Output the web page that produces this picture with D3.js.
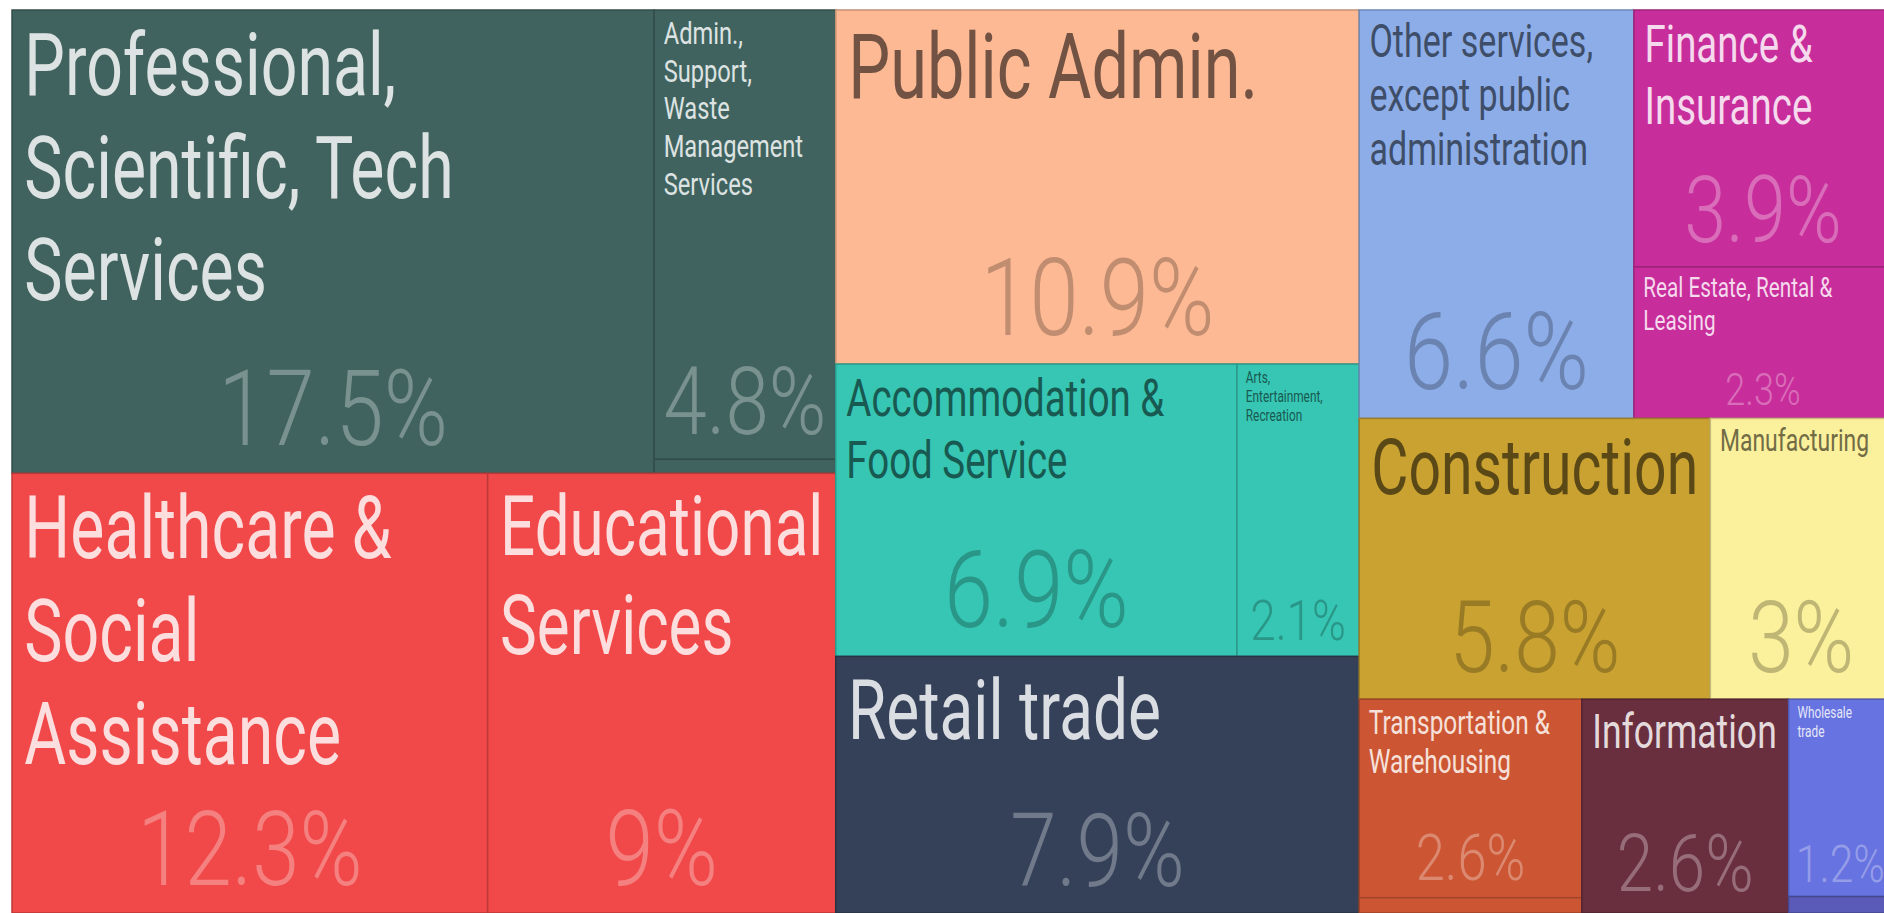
<!DOCTYPE html>
<html>
<head>
<meta charset="utf-8">
<script src="https://cdn.jsdelivr.net/npm/d3@7"></script>
<style>
  html, body { margin: 0; padding: 0; background: #fff; overflow: hidden; }
  svg { display: block; }
  text { font-family: Roboto, "Noto Sans", sans-serif; }
</style>
</head>
<body>
<svg id="chart"></svg>
<script>
// industries, share of jobs (%)
const ids = ["prof", "admin", "mgmt", "heal", "edu", "pub", "acc", "arts", "retail", "other",
    "fin", "re", "cons", "manu", "trans", "util", "info", "whole", "mining"]

const sectors = [
    "Professional,\nScientific, Tech\nServices",
    "Admin.,\nSupport,\nWaste\nManagement\nServices",
    "Management of Companies",
    "Healthcare &\nSocial\nAssistance",
    "Educational\nServices",
    "Public Admin.",
    "Accommodation &\nFood Service",
    "Arts,\nEntertainment,\nRecreation",
    "Retail trade",
    "Other services,\nexcept public\nadministration",
    "Finance &\nInsurance",
    "Real Estate, Rental &\nLeasing",
    "Construction",
    "Manufacturing",
    "Transportation &\nWarehousing",
    "Utilities",
    "Information",
    "Wholesale\ntrade",
    "Mining"
]

const shares = [17.5, 4.8, 0.15, 12.3, 9, 10.9, 6.9, 2.1, 7.9, 6.6, 3.9, 2.3, 5.8, 3, 2.6, 0.2, 2.6, 1.2, 0.1]

const supersectors = ["business", "business", "business", "eduhealth", "eduhealth", "public", "leisure", "leisure",
    "retail", "other", "financial", "financial", "construction", "manufacturing", "transport", "transport",
    "information", "wholesale", "mining"]

// nesting used by the slice/dice layout
const blocks = ["A/pbs", "A/pbs/sub", "A/pbs/sub", "A/eh", "A/eh", "B", "B/lh", "B/lh", "B", "C/r1",
    "C/r1/fin", "C/r1/fin", "C/r2", "C/r2", "C/r3/tu", "C/r3/tu", "C/r3", "C/r3/wm", "C/r3/wm"]

const width = 1884
const height = 913
const margin = { top: 10, left: 12, right: -8 } // the map runs a little past the right edge

const palette = {
    business: "#41635f",
    eduhealth: "#f14949",
    public: "#fdb994",
    leisure: "#36c6b3",
    retail: "#344159",
    other: "#8dade8",
    financial: "#c82e9b",
    construction: "#c9a231",
    manufacturing: "#fbf09b",
    transport: "#cc5634",
    information: "#692f3f",
    wholesale: "#6773e0",
    mining: "#5a5bb8"
}
const color = d3.scaleOrdinal(Object.keys(palette), Object.values(palette))

// [name font px, percent font px]
const textSize = {
    prof: [87, 106], admin: [32, 95], heal: [87, 104], edu: [87, 106], pub: [90, 108],
    acc: [52, 108], arts: [16, 56], retail: [84, 102], other: [46, 108], fin: [52, 92],
    re: [28, 44], cons: [82, 100], manu: [31, 100], trans: [33, 64], info: [48, 80], whole: [16, 52]
}
const NAME_SX = 0.74
const PCT_SX = 0.82
const LINE = 1.18

// build the tree
const tree = { children: [] }
const groups = new Map()
sectors.forEach((name, i) => {
    let parent = tree
    let path = ""
    blocks[i].split("/").forEach(part => {
        path += "/" + part
        if (!groups.has(path)) {
            const g = { children: [] }
            parent.children.push(g)
            groups.set(path, g)
        }
        parent = groups.get(path)
    })
    parent.children.push({ id: ids[i], name, value: shares[i], group: supersectors[i] })
})

const root = d3.hierarchy(tree).sum(d => d.value || 0)
d3.treemap()
    .tile(d3.treemapSliceDice)
    .size([width - margin.left - margin.right, height - margin.top])(root)

const svg = d3.select("#chart")
    .attr("width", width)
    .attr("height", height)
    .attr("xmlns", "http://www.w3.org/2000/svg")

svg.append("rect").attr("width", width).attr("height", height).attr("fill", "#fff")

const g = svg.append("g").attr("transform", `translate(${margin.left},${margin.top})`)

const cell = g.selectAll("g")
    .data(root.leaves())
    .join("g")
    .attr("transform", d => `translate(${d.x0},${d.y0})`)

cell.append("clipPath")
    .attr("id", d => "clip-" + d.data.id)
    .append("rect")
    .attr("width", d => d.x1 - d.x0)
    .attr("height", d => d.y1 - d.y0)

cell.append("rect")
    .attr("width", d => d.x1 - d.x0)
    .attr("height", d => d.y1 - d.y0)
    .attr("fill", d => color(d.data.group))
    .attr("stroke", d => d3.color(color(d.data.group)).darker(0.7))
    .attr("stroke-width", 1.5)

cell.each(function(d) {
    const size = textSize[d.data.id]
    if (!size) return
    const [nameFs, pctFs] = size
    const w = d.x1 - d.x0
    const h = d.y1 - d.y0
    const fill = color(d.data.group)
    const light = d3.lab(fill).l > 60
    const ink = light ? d3.interpolateRgb(fill, "#000")(0.55) : d3.interpolateRgb(fill, "#fff")(0.82)
    const faint = light ? d3.interpolateRgb(fill, "#000")(0.24) : d3.interpolateRgb(fill, "#fff")(0.3)

    const box = d3.select(this).append("g").attr("clip-path", `url(#clip-${d.data.id})`)

    // name, top left
    const pad = 8 + nameFs * 0.05
    const name = box.append("text")
        .attr("fill", ink)
        .attr("font-size", nameFs)
    d.data.name.split("\n").forEach((line, k) => {
        name.append("tspan").attr("x", 0).attr("dy", k ? nameFs * LINE : 0).text(line)
    })
    const nameW = d3.max(name.selectAll("tspan").nodes(), n => n.getComputedTextLength()) * NAME_SX
    const kn = Math.min(1, (w - 2 * pad) / nameW)
    name.attr("transform", `translate(${pad},${4 + nameFs * 0.93 * kn}) scale(${NAME_SX * kn},${kn})`)

    // percentage, bottom centre
    const pct = box.append("text")
        .attr("fill", faint)
        .attr("font-size", pctFs)
        .attr("font-weight", 300)
        .attr("text-anchor", "middle")
        .text(`${d.data.value}%`)
    const pctW = pct.node().getComputedTextLength() * PCT_SX
    const kp = Math.min(1, (w * 0.96) / pctW)
    pct.attr("transform", `translate(${w / 2},${h - pctFs * 0.25 * kp - 2}) scale(${PCT_SX * kp},${kp})`)
})
</script>
</body>
</html>
